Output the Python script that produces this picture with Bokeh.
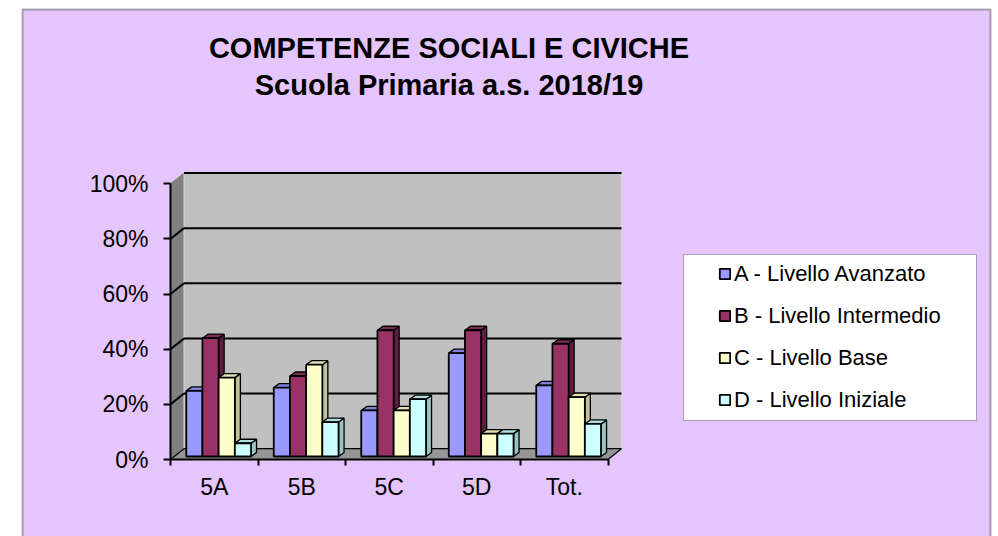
from bokeh.plotting import figure
from bokeh.models import Range1d, FixedTicker, Legend, LegendItem, Label, BoxAnnotation
from bokeh.embed import file_html
from bokeh.resources import INLINE

# ---------------- data ----------------
categories = ["5A", "5B", "5C", "5D", "Tot."]
series_names = ["A - Livello Avanzato", "B - Livello Intermedio",
                "C - Livello Base", "D - Livello Iniziale"]
level_a = [23.8, 25.0, 16.7, 37.5, 25.8]
level_b = [42.9, 29.2, 45.8, 45.8, 40.9]
level_c = [28.6, 33.3, 16.7, 8.3, 21.5]
level_d = [4.8, 12.5, 20.8, 8.3, 11.8]
series_values = [level_a, level_b, level_c, level_d]
y_ticks = [0, 20, 40, 60, 80, 100]
y_tick_labels = ["0%", "20%", "40%", "60%", "80%", "100%"]
title_lines = ["COMPETENZE SOCIALI E CIVICHE", "Scuola Primaria a.s. 2018/19"]

# ---------------- style ----------------
front_colors = ["#9999FF", "#993366", "#FFFFCC", "#CCFFFF"]
top_colors = ["#8080E0", "#7D2A54", "#E0E0B0", "#AEDEDE"]
side_colors = ["#6E6EB8", "#5E1F40", "#BFBF99", "#99C4C4"]
LAV = "#E5C6FC"
FONT = "Liberation Sans"

W, H = 998, 536
PX_X = 87.5      # px per category
PX_Y = 2.757     # px per percent
ORIGIN_X, ORIGIN_Y = 170, 459   # screen position of (0, 0%)
WALL_DX, WALL_DY = 13.5 / PX_X, 10.8 / PX_Y
BAR_DX, BAR_DY = 5.5 / PX_X, 4.0 / PX_Y
BAR_BASE = 3.0 / PX_Y
BAR_OFF, BAR_W = 15.75 / PX_X, 16.2 / PX_X
N = len(categories)

p = figure(width=W, height=H,
           x_range=Range1d(-ORIGIN_X / PX_X, (W - ORIGIN_X) / PX_X),
           y_range=Range1d(-(H - ORIGIN_Y) / PX_Y, ORIGIN_Y / PX_Y),
           output_backend="svg", toolbar_location=None, min_border=0,
           background_fill_color="white", border_fill_color="white",
           outline_line_color=None)
p.title.visible = False
p.xgrid.visible = False
p.ygrid.visible = False

# chart area (lavender) with border
p.add_layout(BoxAnnotation(left=22, right=990, top=H - 9, bottom=-10,
                           left_units="screen", right_units="screen",
                           top_units="screen", bottom_units="screen",
                           fill_color=LAV, fill_alpha=1, line_color="black",
                           line_width=2, level="underlay"))

# walls and floor
p.patch([0, WALL_DX, WALL_DX, 0], [0, WALL_DY, y_ticks[-1] + WALL_DY, y_ticks[-1]],
        fill_color="#808080", line_color="#808080", line_width=1)
p.quad(left=[WALL_DX], right=[N + WALL_DX], bottom=[WALL_DY], top=[y_ticks[-1] + WALL_DY],
       fill_color="#C0C0C0", line_color="#D8D8D8", line_width=1)
p.patch([0, N, N + WALL_DX, WALL_DX], [0, 0, WALL_DY, WALL_DY],
        fill_color="#969696", line_color="black", line_width=1.2)

# gridlines
p.multi_line([[WALL_DX, N + WALL_DX] for t in y_ticks[1:]],
             [[t + WALL_DY, t + WALL_DY] for t in y_ticks[1:]],
             line_color="black", line_width=2)
p.multi_line([[0, WALL_DX] for t in y_ticks[1:-1]],
             [[t, t + WALL_DY] for t in y_ticks[1:-1]],
             line_color="black", line_width=2)

# bars
legend_items = []
for s, vals in enumerate(series_values):
    lefts = [c + BAR_OFF + s * BAR_W for c in range(N)]
    rights = [l + BAR_W for l in lefts]
    tops = [BAR_BASE + v for v in vals]
    p.patches([[r, r + BAR_DX, r + BAR_DX, r] for r in rights],
              [[BAR_BASE, BAR_BASE + BAR_DY, t + BAR_DY, t] for t in tops],
              fill_color=side_colors[s], line_color="black", line_width=1.3)
    p.patches([[l, l + BAR_DX, r + BAR_DX, r] for l, r in zip(lefts, rights)],
              [[t, t + BAR_DY, t + BAR_DY, t] for t in tops],
              fill_color=top_colors[s], line_color="black", line_width=1.3)
    fr = p.quad(left=lefts, right=rights, bottom=[BAR_BASE] * N, top=tops,
                fill_color=front_colors[s], line_color="black", line_width=1.8)
    legend_items.append(LegendItem(label=series_names[s], renderers=[fr]))

# axes (drawn at the data origin)
yax = p.yaxis[0]
yax.fixed_location = 0
yax.ticker = FixedTicker(ticks=y_ticks, minor_ticks=[])
yax.major_label_overrides = dict(zip(y_ticks, y_tick_labels))
yax.bounds = (y_ticks[0], y_ticks[-1])
yax.axis_line_width = 2
yax.axis_line_color = "black"
yax.major_tick_out = 7
yax.major_tick_in = 0
yax.major_tick_line_width = 2
yax.minor_tick_out = 0
yax.minor_tick_in = 0
yax.major_label_text_font = FONT
yax.major_label_text_font_size = "23px"
yax.major_label_text_color = "black"
yax.major_label_standoff = 15

xax = p.xaxis[0]
xax.fixed_location = 0
x_centers = [c + 0.5 for c in range(N)]
xax.ticker = FixedTicker(ticks=x_centers, minor_ticks=list(range(N + 1)))
xax.major_label_overrides = dict(zip(x_centers, categories))
xax.bounds = (0, N)
xax.axis_line_width = 2
xax.axis_line_color = "black"
xax.major_tick_out = 0
xax.major_tick_in = 0
xax.major_tick_line_color = None
xax.minor_tick_out = 6
xax.minor_tick_in = 0
xax.minor_tick_line_width = 2
xax.minor_tick_line_color = "black"
xax.major_label_text_font = FONT
xax.major_label_text_font_size = "23px"
xax.major_label_text_color = "black"
xax.major_label_standoff = 8

# title
for txt, yb in zip(title_lines, [H - 47.5, H - 84.5]):
    p.add_layout(Label(x=448.5, y=yb, x_units="screen", y_units="screen", text=txt,
                       text_align="center", text_baseline="alphabetic",
                       text_font=FONT, text_font_style="bold", text_font_size="29px",
                       text_color="black"))

# legend box + legend
p.add_layout(BoxAnnotation(left=683, right=976, top=H - 254, bottom=H - 420,
                           left_units="screen", right_units="screen",
                           top_units="screen", bottom_units="screen",
                           fill_color="white", fill_alpha=1,
                           line_color="black", line_width=1))
legend = Legend(items=legend_items, location=(718, H - 412.5), orientation="vertical",
                padding=0, margin=0, spacing=16, glyph_width=13, glyph_height=13,
                label_height=25, label_standoff=3,
                label_text_font=FONT, label_text_font_size="22px", label_text_color="black",
                background_fill_alpha=0, border_line_alpha=0)
p.add_layout(legend)

open("out.html", "w").write(file_html(p, INLINE))
